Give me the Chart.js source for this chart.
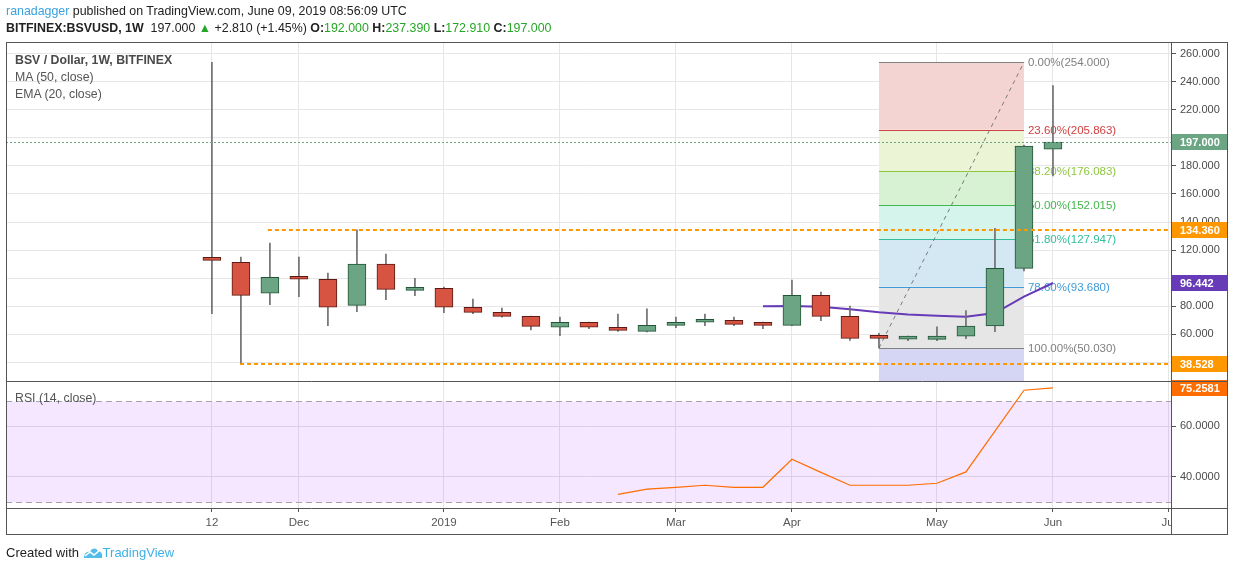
<!DOCTYPE html>
<html>
<head>
<meta charset="utf-8">
<script src="https://cdn.jsdelivr.net/npm/chart.js@4.4.0/dist/chart.umd.min.js"></script>
<style>
body { margin: 0; background: #fff; font-family: "Liberation Sans", Arial, sans-serif; }
#wrap { position: relative; width: 1234px; height: 572px; overflow: hidden; }
canvas { position: absolute; left: 0; top: 0; }
.txt { position: absolute; white-space: nowrap; z-index: 5; }
.g { color: #26a626; }
</style>
</head>
<body>
<div id="wrap">
  <canvas id="price" width="1234" height="572"></canvas>
  <canvas id="rsi" width="1234" height="572"></canvas>

  <div class="txt" style="left:6px;top:4px;font-size:12.4px;color:#222">
    <span style="color:#3aa3df">ranadagger</span> published on TradingView.com, June 09, 2019 08:56:09 UTC
  </div>
  <div class="txt" style="left:6px;top:21px;font-size:12.4px;color:#222">
    <b>BITFINEX:BSVUSD, 1W</b>&nbsp; 197.000 <span class="g">&#9650;</span> +2.810 (+1.45%) <b>O:</b><span class="g">192.000</span> <b>H:</b><span class="g">237.390</span> <b>L:</b><span class="g">172.910</span> <b>C:</b><span class="g">197.000</span>
  </div>

  <div class="txt" style="left:15px;top:53px;font-size:12.3px;color:#4a4a4a;font-weight:bold">BSV / Dollar, 1W, BITFINEX</div>
  <div class="txt" style="left:15px;top:70px;font-size:12.3px;color:#555">MA (50, close)</div>
  <div class="txt" style="left:15px;top:87px;font-size:12.3px;color:#555">EMA (20, close)</div>
  <div class="txt" style="left:15px;top:391px;font-size:12.3px;color:#555">RSI (14, close)</div>

  <div class="txt" style="left:6px;top:545px;font-size:13px;color:#222">
    Created with
    <svg width="20" height="14" viewBox="0 0 20 14" style="vertical-align:-2px">
      <path d="M1 13 C1 8 4 6 7 7 C8 3 13 2 15 6 C18 6 20 9 19 13 Z" fill="#53bde9"/>
      <path d="M2 11 L7 7 L11 10 L17 5" stroke="#fff" stroke-width="1.6" fill="none"/>
    </svg><span style="color:#3fb0e6">TradingView</span>
  </div>
</div>

<script>
// weekly candles, x = week index (0 = week of 12 Nov 2018, 29 = week of 3 Jun 2019)
var opens  = [113.6, 111.2, 89.1, 100.5, 99.1, 80.5, 110.0, 91.2, 92.6, 79.1,
              75.5, 72.6, 64.8, 68.4, 64.8, 61.9, 66.2, 68.4, 69.8, 66.9,
              66.2, 87.6, 72.6, 57.3, 56.3, 56.2, 58.4, 65.7, 106.9, 192.0];
var highs  = [254.0, 115.0, 125.0, 115.0, 103.6, 134.36, 117.0, 99.8, 93.6, 85.0,
              78.6, 72.8, 72.1, 68.6, 74.3, 77.9, 72.1, 74.3, 72.1, 68.6,
              98.6, 90.0, 80.0, 60.5, 58.6, 65.2, 76.7, 135.5, 195.0, 237.39];
var lows   = [74.5, 38.528, 81.0, 86.7, 65.9, 75.9, 84.5, 87.4, 75.2, 74.5,
              72.0, 63.0, 58.8, 63.8, 61.9, 61.5, 64.5, 65.9, 65.9, 63.8,
              66.0, 69.5, 55.5, 50.03, 55.2, 55.2, 56.7, 61.7, 105.0, 172.91];
var closes = [112.6, 87.6, 100.5, 99.1, 79.1, 110.0, 91.9, 92.6, 79.1, 75.5,
              72.6, 65.5, 68.4, 64.8, 62.6, 66.2, 68.4, 69.8, 66.9, 66.2,
              87.6, 72.6, 56.9, 56.9, 57.1, 58.6, 65.7, 106.9, 194.19, 197.0];

var ema20 = [null, null, null, null, null, null, null, null, null, null,
             null, null, null, null, null, null, null, null, null, 79.8,
             80.0, 79.5, 77.6, 75.5, 74.0, 73.1, 72.4, 75.0, 86.7, 96.442];
var rsi14 = [null, null, null, null, null, null, null, null, null, null,
             null, null, null, null, 33.0, 35.1, 35.8, 36.6, 35.8, 35.8,
             46.9, 41.7, 36.6, 36.6, 36.6, 37.4, 41.9, 58.1, 74.3, 75.2581];

var tickWeeks  = [0, 3, 8, 12, 16, 20, 25, 29, 33];
var tickLabels = ['12', 'Dec', '2019', 'Feb', 'Mar', 'Apr', 'May', 'Jun', 'Jul'];
var rsiTicks   = [40, 60];

var fibLevels = [0, 0.236, 0.382, 0.5, 0.618, 0.786, 1];
var fibHigh = 254.0, fibLow = 50.03, fibFrom = 23, fibTo = 28;

var hLevels = [134.36, 38.528];
var hFrom   = [1.93, 0.97];

// styles
var UP = '#6ba583', UP_BORDER = '#225437', DOWN = '#d75442', DOWN_BORDER = '#5b1a13';
var fibLine = ['#808080', '#d0413f', '#8ec63f', '#43b74b', '#2fbf9a', '#3e9bd8', '#808080'];
var fibFill = ['#f4d3d3', '#ebf4d5', '#d6f2d2', '#d5f4eb', '#d4e8f3', '#e6e6e6', '#d5d6f3'];
var ORANGE = '#ff9800', PURPLE = '#673ab7', RSI_COL = '#ff6d00';
var FRAME = '#555';

var X_MIN = -7.1, X_MAX = 33.07;

function isUp(i) { return closes[i] >= opens[i]; }

var bodies = opens.map(function (o, i) { return { x: i, y: [o, closes[i]] }; });
var wicks = lows.map(function (l, i) { return { x: i, y: [l, highs[i]] }; });
var emaPts = ema20.map(function (v, i) { return { x: i, y: v }; }).filter(function (p) { return p.y !== null; });
var rsiPts = rsi14.map(function (v, i) { return { x: i, y: v }; }).filter(function (p) { return p.y !== null; });

// prices that get a label box on the scale; plain tick labels right under them are hidden
var boxedPrices = [closes[closes.length - 1], hLevels[0], ema20[ema20.length - 1], hLevels[1]];

function valueBox(ctx, area, y, bg, text) {
    ctx.fillStyle = bg;
    ctx.fillRect(area.right, Math.round(y) - 8, 57, 16);
    ctx.fillStyle = '#fff';
    ctx.font = 'bold 11px "Liberation Sans", Arial, sans-serif';
    ctx.textBaseline = 'middle';
    ctx.textAlign = 'left';
    ctx.fillText(text, area.right + 9, Math.round(y) + 0.5);
}

var priceOverlay = {
    id: 'priceOverlay',
    beforeDatasetsDraw: function (chart) {
        var ctx = chart.ctx, a = chart.chartArea, xs = chart.scales.x, ys = chart.scales.y;
        var x0 = xs.getPixelForValue(fibFrom), x1 = xs.getPixelForValue(fibTo);
        var vals = fibLevels.map(function (l) { return fibHigh - l * (fibHigh - fibLow); });
        ctx.save();
        ctx.beginPath();
        ctx.rect(a.left, a.top, a.right - a.left, a.bottom - a.top);
        ctx.clip();
        for (var i = 0; i < vals.length; i++) {
            var yTop = ys.getPixelForValue(vals[i]);
            var yBot = i < vals.length - 1 ? ys.getPixelForValue(vals[i + 1]) : a.bottom;
            ctx.fillStyle = fibFill[i];
            ctx.fillRect(x0, yTop, x1 - x0, yBot - yTop);
        }
        ctx.font = '11.5px "Liberation Sans", Arial, sans-serif';
        ctx.textBaseline = 'middle';
        for (var j = 0; j < vals.length; j++) {
            var y = Math.round(ys.getPixelForValue(vals[j])) + 0.5;
            ctx.strokeStyle = fibLine[j];
            ctx.lineWidth = 1;
            ctx.beginPath();
            ctx.moveTo(x0, y);
            ctx.lineTo(x1, y);
            ctx.stroke();
            ctx.fillStyle = fibLine[j];
            ctx.fillText((fibLevels[j] * 100).toFixed(2) + '%(' + vals[j].toFixed(3) + ')', x1 + 4, y);
        }
        // trend line the retracement was drawn from
        ctx.strokeStyle = '#7a7a7a';
        ctx.setLineDash([4, 4]);
        ctx.beginPath();
        ctx.moveTo(x0, ys.getPixelForValue(fibLow));
        ctx.lineTo(x1, ys.getPixelForValue(fibHigh));
        ctx.stroke();
        ctx.restore();
    },
    afterDatasetsDraw: function (chart) {
        var ctx = chart.ctx, a = chart.chartArea, xs = chart.scales.x, ys = chart.scales.y;
        ctx.save();
        ctx.lineWidth = 2;
        ctx.strokeStyle = ORANGE;
        ctx.setLineDash([4, 3]);
        hLevels.forEach(function (v, i) {
            var y = Math.round(ys.getPixelForValue(v));
            ctx.beginPath();
            ctx.moveTo(xs.getPixelForValue(hFrom[i]), y);
            ctx.lineTo(a.right, y);
            ctx.stroke();
        });
        // last price line
        var yp = Math.round(ys.getPixelForValue(closes[closes.length - 1])) + 0.5;
        ctx.lineWidth = 1;
        ctx.strokeStyle = UP;
        ctx.setLineDash([2, 2]);
        ctx.beginPath();
        ctx.moveTo(a.left, yp);
        ctx.lineTo(a.right, yp);
        ctx.stroke();
        ctx.restore();
    },
    afterDraw: function (chart) {
        var ctx = chart.ctx, a = chart.chartArea, ys = chart.scales.y;
        ctx.save();
        var last = closes[closes.length - 1];
        valueBox(ctx, a, ys.getPixelForValue(last), UP, last.toFixed(3));
        valueBox(ctx, a, ys.getPixelForValue(hLevels[0]), ORANGE, hLevels[0].toFixed(3));
        var e = ema20[ema20.length - 1];
        valueBox(ctx, a, ys.getPixelForValue(e), PURPLE, e.toFixed(3));
        valueBox(ctx, a, ys.getPixelForValue(hLevels[1]), ORANGE, hLevels[1].toFixed(3));
        ctx.restore();
    }
};

var rsiOverlay = {
    id: 'rsiOverlay',
    beforeDatasetsDraw: function (chart) {
        var ctx = chart.ctx, a = chart.chartArea, ys = chart.scales.y;
        var y70 = Math.round(ys.getPixelForValue(70)) + 0.5, y30 = Math.round(ys.getPixelForValue(30)) + 0.5;
        ctx.save();
        ctx.fillStyle = 'rgba(153, 21, 255, 0.1)';
        ctx.fillRect(a.left, y70, a.right - a.left, y30 - y70);
        ctx.strokeStyle = '#a9a2b3';
        ctx.lineWidth = 1;
        ctx.setLineDash([6, 4]);
        [y70, y30].forEach(function (y) {
            ctx.beginPath();
            ctx.moveTo(a.left, y);
            ctx.lineTo(a.right, y);
            ctx.stroke();
        });
        ctx.restore();
    },
    afterDraw: function (chart) {
        var ctx = chart.ctx, a = chart.chartArea, ys = chart.scales.y;
        ctx.save();
        // time axis is cut at the price scale column
        ctx.fillStyle = '#fff';
        ctx.fillRect(a.right + 1, a.bottom + 1, 60, 30);
        var r = rsi14[rsi14.length - 1];
        valueBox(ctx, a, ys.getPixelForValue(r), RSI_COL, r.toFixed(4));
        // pane frame
        ctx.strokeStyle = FRAME;
        ctx.lineWidth = 1;
        ctx.strokeRect(6.5, 42.5, 1221, 492);
        ctx.beginPath();
        ctx.moveTo(6, 381.5); ctx.lineTo(1228, 381.5);
        ctx.moveTo(6, a.bottom + 0.5); ctx.lineTo(1228, a.bottom + 0.5);
        ctx.moveTo(a.right + 0.5, 42); ctx.lineTo(a.right + 0.5, 535);
        ctx.stroke();
        ctx.restore();
    }
};

function xAxis(showLabels) {
    return {
        type: 'linear',
        min: X_MIN,
        max: X_MAX,
        offset: false,
        afterBuildTicks: function (s) { s.ticks = tickWeeks.map(function (v) { return { value: v }; }); },
        afterFit: function (s) { s.height = showLabels ? 27 : 0; },
        grid: { color: '#e6e6e6', offset: false, drawTicks: showLabels, tickLength: 4, tickColor: '#555' },
        border: { display: false },
        ticks: {
            display: showLabels,
            autoSkip: false,
            maxRotation: 0,
            padding: 4,
            color: '#555',
            font: { size: 11.5, family: '"Liberation Sans", Arial, sans-serif' },
            callback: function (v) { return tickLabels[tickWeeks.indexOf(v)]; }
        }
    };
}

var yTickFont = { size: 11, family: '"Liberation Sans", Arial, sans-serif' };

new Chart(document.getElementById('price'), {
    type: 'bar',
    data: {
        datasets: [{
            data: bodies,
            grouped: false,
            barThickness: 18,
            minBarLength: 3,
            borderWidth: 1,
            borderSkipped: false,
            backgroundColor: function (c) { return isUp(c.dataIndex) ? UP : DOWN; },
            borderColor: function (c) { return isUp(c.dataIndex) ? UP_BORDER : DOWN_BORDER; }
        }, {
            data: wicks,
            grouped: false,
            barThickness: 1,
            backgroundColor: '#6e6e70'
        }, {
            type: 'line',
            data: emaPts,
            borderColor: PURPLE,
            borderWidth: 2,
            pointRadius: 0,
            tension: 0
        }]
    },
    options: {
        responsive: false,
        animation: false,
        layout: { padding: { left: 6, right: 6, top: 42, bottom: 191 } },
        plugins: { legend: { display: false }, tooltip: { enabled: false } },
        scales: {
            x: xAxis(false),
            y: {
                position: 'right',
                min: 26.43,
                max: 268.57,
                afterFit: function (s) { s.width = 57; },
                grid: { color: '#e6e6e6', tickLength: 5, tickColor: '#555' },
                border: { display: false },
                ticks: {
                    stepSize: 20,
                    includeBounds: false,
                    padding: 4,
                    color: '#4a4a4a',
                    font: yTickFont,
                    callback: function (v) {
                        var hidden = boxedPrices.some(function (b) { return Math.abs(b - v) < 4.5; });
                        return hidden ? '' : v.toFixed(3);
                    }
                }
            }
        }
    },
    plugins: [priceOverlay]
});

new Chart(document.getElementById('rsi'), {
    type: 'line',
    data: {
        datasets: [{
            data: rsiPts,
            borderColor: RSI_COL,
            borderWidth: 1.2,
            pointRadius: 0,
            tension: 0
        }]
    },
    options: {
        responsive: false,
        animation: false,
        layout: { padding: { left: 6, right: 6, top: 381, bottom: 37 } },
        plugins: { legend: { display: false }, tooltip: { enabled: false } },
        scales: {
            x: xAxis(true),
            y: {
                position: 'right',
                min: 27.58,
                max: 77.98,
                afterFit: function (s) { s.width = 57; },
                afterBuildTicks: function (s) { s.ticks = rsiTicks.map(function (v) { return { value: v }; }); },
                grid: { color: '#e2e2e2', tickLength: 5, tickColor: '#555' },
                border: { display: false },
                ticks: {
                    padding: 4,
                    color: '#4a4a4a',
                    font: yTickFont,
                    callback: function (v) { return v.toFixed(4); }
                }
            }
        }
    },
    plugins: [rsiOverlay]
});
</script>
</body>
</html>
